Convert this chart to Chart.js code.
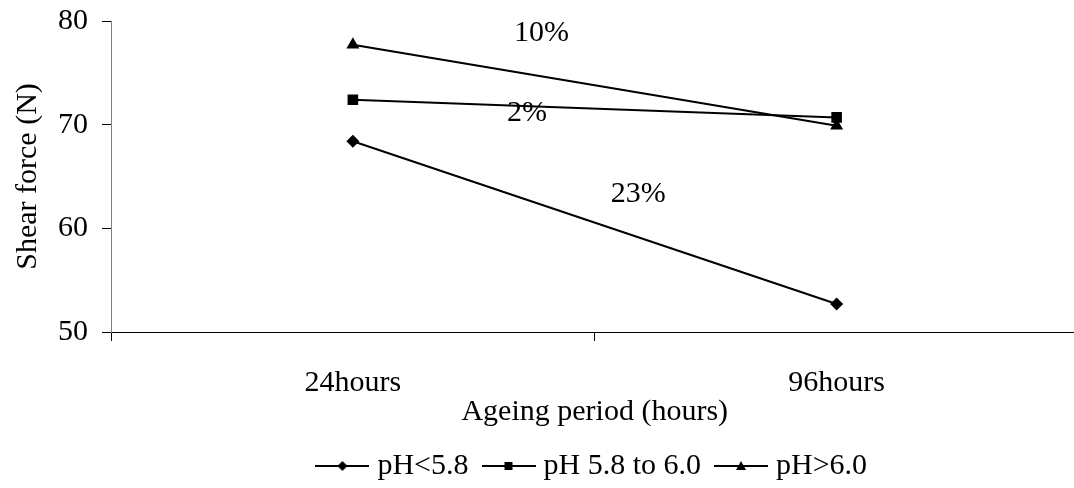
<!DOCTYPE html>
<html>
<head>
<meta charset="utf-8">
<script src="https://cdn.jsdelivr.net/npm/chart.js@4"></script>
<style>
  body { margin: 0; background: #fff; overflow: hidden; }
  #wrap { width: 1086px; height: 488px; }
</style>
</head>
<body>
<div id="wrap"><canvas id="myChart"></canvas></div>
<script>
// data
const periods = ['24hours', '96hours'];
const phLow = [68.4, 52.7];     // pH<5.8
const phMid = [72.4, 70.7];     // pH 5.8 to 6.0
const phHigh = [77.7, 69.9];    // pH>6.0
const seriesNames = ['pH<5.8', 'pH 5.8 to 6.0', 'pH>6.0'];
const changeLabels = ['10%', '2%', '23%'];
const yTicks = [50, 60, 70, 80];

const serif = '"Liberation Serif", "Times New Roman", serif';
const fs = 30;
Chart.defaults.color = '#000';
Chart.defaults.font.family = serif;

// legend swatch: short line with the marker in the middle
function swatch(style) {
    const c = document.createElement('canvas');
    c.width = 54; c.height = 16;
    const g = c.getContext('2d');
    g.strokeStyle = '#000';
    g.lineWidth = 2;
    g.beginPath(); g.moveTo(0, 8); g.lineTo(54, 8); g.stroke();
    g.fillStyle = '#000';
    g.beginPath();
    if (style === 'rectRot') {
        g.moveTo(27, 3); g.lineTo(32, 8); g.lineTo(27, 13); g.lineTo(22, 8);
    } else if (style === 'rect') {
        g.rect(23, 4, 8, 8);
    } else {
        g.moveTo(27, 3); g.lineTo(32, 12); g.lineTo(22, 12);
    }
    g.closePath(); g.fill();
    return c;
}

// percentage notes placed between the two periods
const notePlugin = {
    id: 'notes',
    afterDatasetsDraw(chart) {
        const x = chart.scales.x, y = chart.scales.y;
        const x0 = x.getPixelForValue(0), x1 = x.getPixelForValue(1);
        const spots = [[0.39, 78.85], [0.36, 71.1], [0.59, 63.3]];
        const ctx = chart.ctx;
        ctx.save();
        ctx.font = fs + 'px ' + serif;
        ctx.fillStyle = '#000';
        ctx.textAlign = 'center';
        ctx.textBaseline = 'middle';
        changeLabels.forEach((t, i) => {
            ctx.fillText(t, x0 + spots[i][0] * (x1 - x0), y.getPixelForValue(spots[i][1]));
        });
        ctx.restore();
    }
};

const styles = ['rectRot', 'rect', 'triangle'];
const radii = [6.5, 7.5, 7.5];
const ctx = document.getElementById('myChart').getContext('2d');
new Chart(ctx, {
    type: 'line',
    data: {
        labels: periods,
        datasets: [phLow, phMid, phHigh].map((d, i) => ({
            label: seriesNames[i],
            data: d,
            borderColor: '#000',
            backgroundColor: '#000',
            borderWidth: 2,
            pointStyle: styles[i],
            pointRadius: radii[i],
            pointBorderWidth: 0,
            pointBackgroundColor: '#000'
        }))
    },
    options: {
        responsive: true,
        maintainAspectRatio: false,
        animation: false,
        layout: { padding: { top: 0, left: 13, right: 0, bottom: -3 } },
        plugins: {
            tooltip: { enabled: false },
            legend: {
                position: 'bottom',
                fullSize: false,
                labels: {
                    usePointStyle: true,
                    pointStyleWidth: 40,
                    padding: 20,
                    font: { size: fs, family: serif },
                    generateLabels: chart => chart.data.datasets.map((ds, i) => ({
                        text: ds.label,
                        pointStyle: swatch(styles[i]),
                        fillStyle: '#000',
                        strokeStyle: '#000',
                        lineWidth: 0,
                        datasetIndex: i
                    }))
                }
            }
        },
        scales: {
            x: {
                offset: true,
                grid: { offset: true, drawOnChartArea: false, tickLength: 9, color: '#000' },
                border: { color: '#000', width: 1 },
                ticks: { padding: 27, font: { size: fs, lineHeight: 1 } },
                title: {
                    display: true,
                    text: 'Ageing period (hours)',
                    font: { size: fs, lineHeight: 1 },
                    padding: { top: -28, bottom: 4 }
                }
            },
            y: {
                min: 50,
                max: 80,
                afterBuildTicks: s => { s.ticks = yTicks.map(v => ({ value: v })); },
                afterFit: s => { s.paddingTop = 21; s.paddingBottom = 15; },
                grid: { drawOnChartArea: false, tickLength: 9, color: '#000' },
                border: { color: '#808080', width: 1 },
                ticks: { padding: 14, font: { size: fs, lineHeight: 1 } },
                title: {
                    display: true,
                    text: 'Shear force (N)',
                    font: { size: fs, lineHeight: 1 },
                    padding: { top: 0, bottom: 1 }
                }
            }
        }
    },
    plugins: [notePlugin]
});
</script>
</body>
</html>
